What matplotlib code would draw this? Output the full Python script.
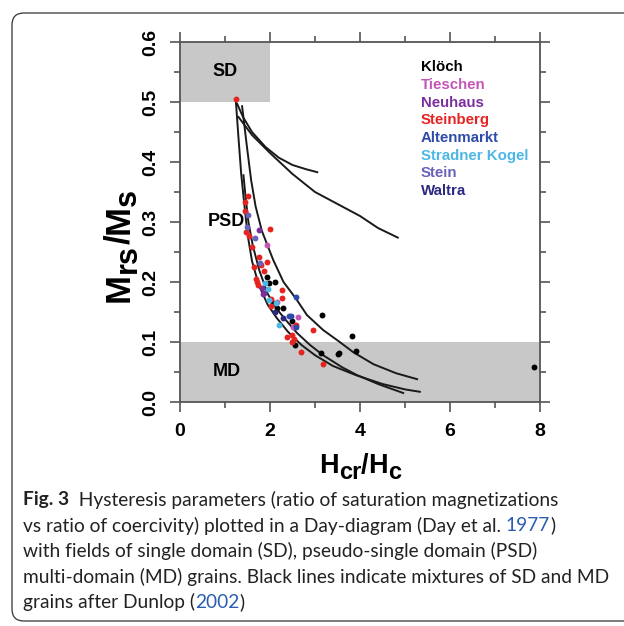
import numpy as np
import matplotlib
matplotlib.use("Agg")
import matplotlib.pyplot as plt
from matplotlib.patches import FancyBboxPatch
from matplotlib.transforms import IdentityTransform

# mixing curves after Dunlop (2002)
curve_left_x = [1.24, 1.30, 1.36, 1.42, 1.50, 1.60, 1.75, 1.95, 2.15, 2.40, 2.70, 3.00, 3.40, 3.90, 4.50, 5.00, 5.33]
curve_left_y = [0.503, 0.44, 0.38, 0.336, 0.28, 0.235, 0.195, 0.162, 0.14, 0.117, 0.095, 0.078, 0.06, 0.045, 0.03, 0.021, 0.017]
curve_mid_x = [1.41, 1.46, 1.52, 1.62, 1.76, 1.95, 2.15, 2.37, 2.60, 2.89, 3.18, 3.60, 3.93, 4.40, 4.96]
curve_mid_y = [0.378, 0.34, 0.30, 0.26, 0.22, 0.18, 0.155, 0.135, 0.115, 0.095, 0.078, 0.058, 0.045, 0.03, 0.015]
curve_right_x = [1.38, 1.48, 1.58, 1.68, 1.82, 2.07, 2.30, 2.58, 2.82, 3.18, 3.55, 3.85, 4.30, 4.80, 5.27]
curve_right_y = [0.493, 0.43, 0.37, 0.326, 0.285, 0.237, 0.20, 0.172, 0.145, 0.12, 0.10, 0.083, 0.063, 0.048, 0.038]
curve_short_x = [1.27, 1.40, 1.60, 1.90, 2.20, 2.50, 2.80, 3.05]
curve_short_y = [0.497, 0.475, 0.45, 0.425, 0.407, 0.395, 0.388, 0.383]
curve_long_x = [1.30, 1.60, 2.00, 2.50, 3.00, 3.50, 4.00, 4.40, 4.84]
curve_long_y = [0.475, 0.445, 0.415, 0.38, 0.35, 0.33, 0.31, 0.29, 0.274]

sites = ['Klöch', 'Tieschen', 'Neuhaus', 'Steinberg', 'Altenmarkt', 'Stradner Kogel', 'Stein', 'Waltra']
site_colors = ['#000000', '#c455b5', '#7b2f9c', '#e52421', '#2d4ba8', '#4db7e4', '#6a62b9', '#2b2a80']

kloech_x = [1.93, 1.98, 2.11, 2.07, 2.16, 2.29, 3.16, 2.49, 2.56, 3.13, 3.51, 3.53, 3.82, 3.91, 7.87]
kloech_y = [0.209, 0.199, 0.20, 0.165, 0.157, 0.157, 0.145, 0.135, 0.095, 0.082, 0.08, 0.082, 0.11, 0.085, 0.058]
tieschen_x = [1.93, 2.16, 2.62, 2.51]
tieschen_y = [0.262, 0.167, 0.142, 0.125]
neuhaus_x = [1.76, 1.82, 1.84, 1.87]
neuhaus_y = [0.286, 0.19, 0.18, 0.181]
steinberg_x = [1.24, 1.51, 1.44, 1.44, 1.46, 1.53, 2.00, 1.60, 1.76, 1.64, 1.80, 1.93, 1.87, 1.69, 1.71,
               1.73, 2.27, 2.27, 2.02, 2.02, 2.58, 2.96, 2.38, 2.49, 2.53, 2.49, 2.69, 3.18]
steinberg_y = [0.505, 0.344, 0.334, 0.318, 0.284, 0.276, 0.289, 0.259, 0.242, 0.225, 0.229, 0.234, 0.219, 0.205, 0.20,
               0.195, 0.187, 0.174, 0.171, 0.16, 0.128, 0.12, 0.108, 0.112, 0.105, 0.10, 0.083, 0.063]
altenmarkt_x = [2.58, 2.42, 2.47, 2.58]
altenmarkt_y = [0.175, 0.143, 0.143, 0.125]
stradner_x = [1.89, 1.96, 1.98, 2.13, 2.20]
stradner_y = [0.199, 0.188, 0.17, 0.165, 0.128]
stein_x = [1.51, 1.49, 1.67, 1.78]
stein_y = [0.311, 0.291, 0.274, 0.232]
waltra_x = [2.11, 2.29]
waltra_y = [0.15, 0.14]

site_x = [kloech_x, tieschen_x, neuhaus_x, steinberg_x, altenmarkt_x, stradner_x, stein_x, waltra_x]
site_y = [kloech_y, tieschen_y, neuhaus_y, steinberg_y, altenmarkt_y, stradner_y, stein_y, waltra_y]

W, H = 624, 626
fig = plt.figure(figsize=(W / 100, H / 100), dpi=100)
ax = fig.add_axes([180/W, 1 - 402/H, 360/W, 360/H])
renderer = fig.canvas.get_renderer()

grey = '#c8c8c8'
ax.axhspan(0, 0.1, color=grey, lw=0, zorder=0)
ax.fill_between([0, 2], 0.5, 0.6, color=grey, lw=0, zorder=0)

for cx, cy in [(curve_left_x, curve_left_y), (curve_mid_x, curve_mid_y), (curve_right_x, curve_right_y),
               (curve_short_x, curve_short_y), (curve_long_x, curve_long_y)]:
    ax.plot(cx, cy, color='#1a1a1a', lw=1.4, zorder=2)

for xs, ys, c in zip(site_x, site_y, site_colors):
    ax.scatter(xs, ys, s=18, color=c, lw=0, zorder=3)

for i, (name, c) in enumerate(zip(sites, site_colors)):
    ax.text(5.35, 0.558 - i * 0.0295, name, color=c, fontsize=10.8, fontweight='bold',
            family='Liberation Sans', va='center', ha='left')

for txt, x, y in [('SD', 1.0, 0.55), ('PSD', 1.02, 0.30), ('MD', 1.04, 0.05)]:
    ax.text(x, y, txt, fontsize=13, fontweight='bold', family='Liberation Sans', ha='center', va='center')

ax.set_xlim(0, 8)
ax.set_ylim(0, 0.6)
ax.set_xticks([0, 2, 4, 6, 8])
ax.set_xticks([1, 3, 5, 7], minor=True)
ax.set_yticks(np.arange(0, 0.61, 0.1))
ax.set_yticks(np.arange(0.05, 0.6, 0.1), minor=True)
ax.set_xticklabels(['0', '2', '4', '6', '8'])
ax.set_yticklabels(['0.0', '0.1', '0.2', '0.3', '0.4', '0.5', '0.6'], rotation=90, va='center')
for lab in ax.get_xticklabels() + ax.get_yticklabels():
    lab.set_family('Liberation Sans')
    lab.set_fontweight('bold')
    lab.set_fontsize(14)
ax.tick_params(which='both', direction='out', top=True, right=True, color='#555555', width=1.2)
ax.tick_params(which='major', length=7, pad=8)
ax.tick_params(which='minor', length=4)
ax.tick_params(top=True, labeltop=False, right=True, labelright=False)
for s in ax.spines.values():
    s.set_color('#555555')
    s.set_linewidth(1.3)


def pieced_label(x0, y0, pieces, vertical=False):
    # pieces: (text, fontsize, shift down in px); x0, y0 in pixels from top-left
    pos = 0.0
    for txt, size, shift in pieces:
        if vertical:
            px, py = x0 + shift, H - y0 + pos
        else:
            px, py = x0 + pos, H - y0 - shift
        t = fig.text(px / W, py / H, txt, fontsize=size, fontweight='bold', family='Liberation Sans',
                     rotation=90 if vertical else 0, rotation_mode='anchor', ha='left', va='baseline')
        bb = t.get_window_extent(renderer)
        pos += bb.height if vertical else bb.width


pieced_label(319, 473, [('H', 19.5, 0), ('cr', 17, 6), ('/', 19.5, 0), ('H', 19.5, 0), ('c', 17, 6)])
pieced_label(129, 302, [('M', 25, 0), ('rs', 22, 7), ('/', 25, 0), ('M', 25, 0), ('s', 22, 7)], vertical=True)

# frame around figure + caption
frame = FancyBboxPatch((12, 5), 640, 608, boxstyle='round,pad=0,rounding_size=12',
                       transform=IdentityTransform(), fill=False, ec='#333333', lw=0.9)
fig.patches.append(frame)

line_y = [500, 525.5, 551, 576.5, 602]
cap_lines = [
    [('Fig. 3', True, '#222222'), ('  Hysteresis parameters (ratio of saturation magnetizations', False, '#222222')],
    [('vs ratio of coercivity) plotted in a Day-diagram (Day et al. ', False, '#222222'), ('1977', False, '#2a5db0'), (')', False, '#222222')],
    [('with fields of single domain (SD), pseudo-single domain (PSD)', False, '#222222')],
    [('multi-domain (MD) grains. Black lines indicate mixtures of SD and MD', False, '#222222')],
    [('grains after Dunlop (', False, '#222222'), ('2002', False, '#2a5db0'), (')', False, '#222222')],
]
for ly, parts in zip(line_y, cap_lines):
    x = 23
    for txt, bold, col in parts:
        t = fig.text(x / W, 1 - ly / H, txt, family='Lato', fontsize=13.8, color=col,
                     fontweight='bold' if bold else 'normal', va='center', ha='left')
        bb = t.get_window_extent(renderer)
        x += bb.width

fig.savefig('out.png', dpi=100)
